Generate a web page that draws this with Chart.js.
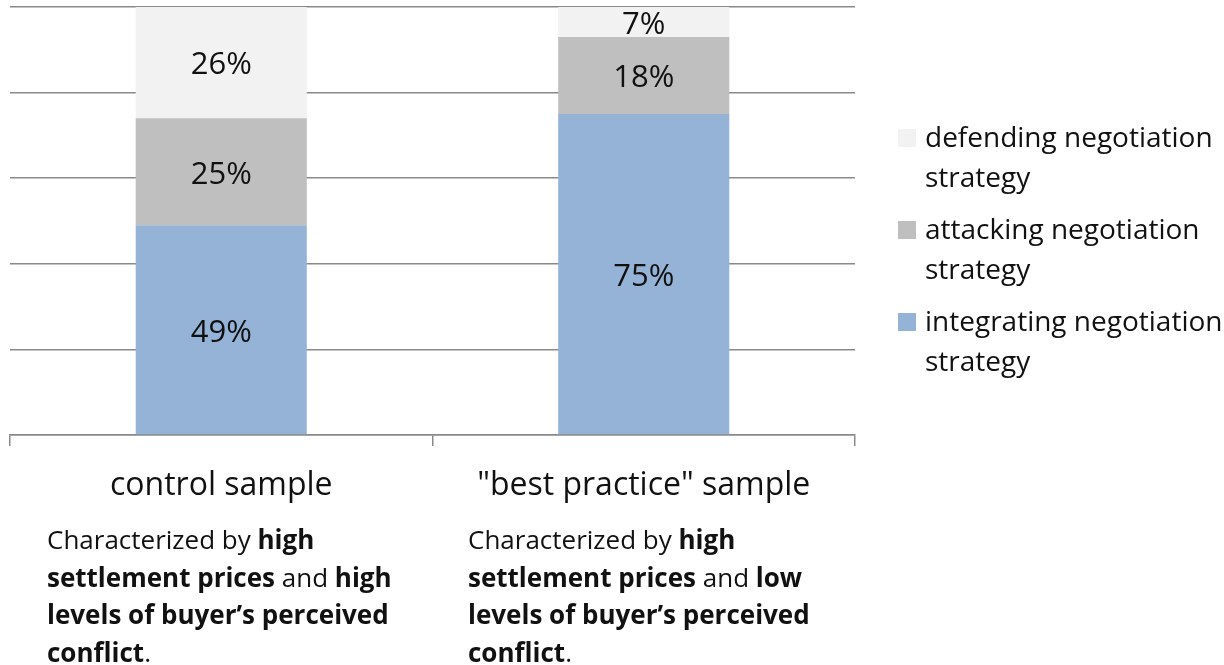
<!DOCTYPE html>
<html>
<head>
<meta charset="utf-8">
<script src="https://cdn.jsdelivr.net/npm/chart.js@4.4.1/dist/chart.umd.min.js"></script>
<style>
  html, body { margin: 0; padding: 0; background: #ffffff; }
  #wrap { width: 1224px; height: 665px; }
</style>
</head>
<body>
<div id="wrap"><canvas id="c" width="1224" height="665"></canvas></div>
<script>
// ---- data ----
const categories = ['control sample', '"best practice" sample'];
const seriesNames = ['integrating negotiation strategy', 'attacking negotiation strategy', 'defending negotiation strategy'];
const integrating = [49, 75];
const attacking = [25, 18];
const defending = [26, 7];
const yTickValues = [0, 20, 40, 60, 80, 100];
const legendLines = [
  ['defending negotiation', 'strategy'],
  ['attacking negotiation', 'strategy'],
  ['integrating negotiation', 'strategy']
];
const descControl = [
  [['Characterized by ', false], ['high', true]],
  [['settlement prices', true], [' and ', false], ['high', true]],
  [['levels of buyer\u2019s perceived', true]],
  [['conflict', true], ['.', false]]
];
const descBest = [
  [['Characterized by ', false], ['high', true]],
  [['settlement prices', true], [' and ', false], ['low', true]],
  [['levels of buyer\u2019s perceived', true]],
  [['conflict', true], ['.', false]]
];
const descriptions = [descControl, descBest];

// ---- styles ----
const FONT = "'Open Sans', 'DejaVu Sans', sans-serif";
const colors = ['#95B3D7', '#BFBFBF', '#F2F2F2'];
const gridColor = '#8A8A8A';

Chart.defaults.font.family = FONT;
Chart.defaults.color = '#000000';

const dataLabels = {
  id: 'dataLabels',
  afterDatasetsDraw(chart) {
    const ctx = chart.ctx;
    ctx.save();
    ctx.font = '31px ' + FONT;
    ctx.fillStyle = '#111111';
    ctx.textAlign = 'center';
    ctx.textBaseline = 'middle';
    chart.data.datasets.forEach((ds, di) => {
      const meta = chart.getDatasetMeta(di);
      meta.data.forEach((bar, i) => {
        const v = ds.data[i];
        const cy = (bar.y + bar.base) / 2;
        ctx.fillText(v + '%', bar.x, cy + 3);
      });
    });
    ctx.restore();
  }
};

const sideLegend = {
  id: 'sideLegend',
  afterDraw(chart) {
    const ctx = chart.ctx;
    ctx.save();
    const n = chart.data.datasets.length;
    const firstY = 139, itemGap = 92, lineGap = 40;
    for (let k = 0; k < n; k++) {
      const di = n - 1 - k;
      const ds = chart.data.datasets[di];
      const y0 = firstY + k * itemGap;
      ctx.fillStyle = ds.backgroundColor;
      ctx.fillRect(898, y0 - 10, 18, 18);
      ctx.fillStyle = '#111111';
      ctx.font = '28px ' + FONT;
      ctx.textAlign = 'left';
      ctx.textBaseline = 'middle';
      legendLines[k].forEach((ln, li) => ctx.fillText(ln, 925, y0 + li * lineGap));
    }
    ctx.restore();
  }
};

const descText = {
  id: 'descText',
  afterDraw(chart) {
    const ctx = chart.ctx;
    ctx.save();
    ctx.fillStyle = '#111111';
    ctx.textBaseline = 'middle';
    ctx.textAlign = 'left';
    const xs = [47, 468];
    const firstY = 542, lineGap = 37.5;
    descriptions.forEach((lines, ci) => {
      lines.forEach((runs, li) => {
        let x = xs[ci];
        const y = firstY + li * lineGap;
        runs.forEach(([t, b]) => {
          ctx.font = (b ? 'bold ' : '') + '26px ' + FONT;
          ctx.fillText(t, x, y);
          x += ctx.measureText(t).width;
        });
      });
    });
    ctx.restore();
  }
};

new Chart(document.getElementById('c'), {
  type: 'bar',
  data: {
    labels: categories,
    datasets: [
      { label: seriesNames[0], data: integrating, backgroundColor: colors[0] },
      { label: seriesNames[1], data: attacking, backgroundColor: colors[1] },
      { label: seriesNames[2], data: defending, backgroundColor: colors[2] }
    ]
  },
  options: {
    responsive: false,
    devicePixelRatio: 1,
    animation: false,
    layout: { padding: { left: 10, right: 369, top: 7, bottom: 0 } },
    datasets: { bar: { categoryPercentage: 1, barPercentage: 0.405, borderWidth: 0 } },
    plugins: { legend: { display: false }, tooltip: { enabled: false } },
    scales: {
      x: {
        stacked: true,
        offset: true,
        grid: { offset: true, drawOnChartArea: false, drawTicks: true, tickLength: 11, color: gridColor, lineWidth: 1.5 },
        border: { display: true, color: gridColor, width: 1.5 },
        ticks: { font: { size: 32, family: FONT }, color: '#111111', padding: 21, maxRotation: 0 },
        afterFit(s) { s.height = 230; }
      },
      y: {
        stacked: true,
        min: 0,
        max: 100,
        afterBuildTicks(s) { s.ticks = yTickValues.map(v => ({ value: v })); },
        ticks: { display: false },
        grid: { drawTicks: false, color: gridColor, lineWidth: 1.5 },
        border: { display: false },
        afterFit(s) { s.width = 0; }
      }
    }
  },
  plugins: [dataLabels, sideLegend, descText]
});
</script>
</body>
</html>
